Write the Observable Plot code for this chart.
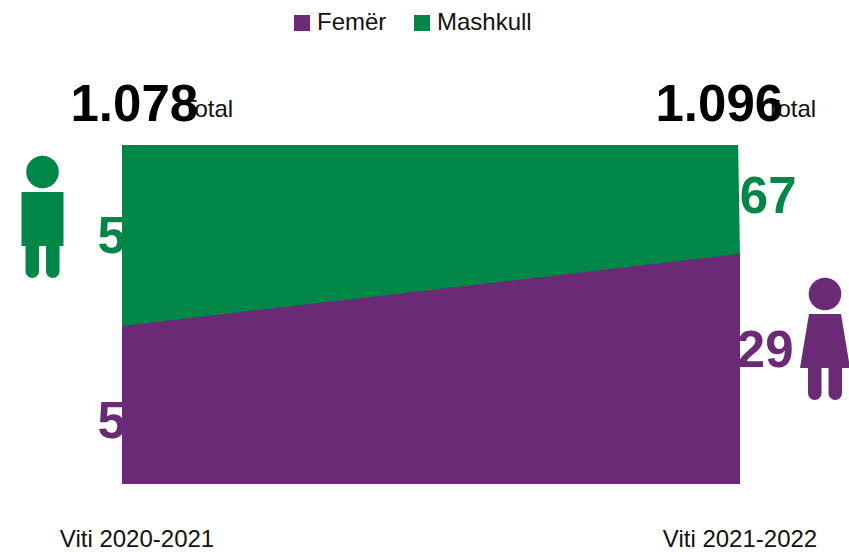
<!DOCTYPE html>
<html>
<head>
<meta charset="utf-8">
<script src="https://cdn.jsdelivr.net/npm/d3@7"></script>
<script src="https://cdn.jsdelivr.net/npm/@observablehq/plot@0.6"></script>
<style>
html,body{margin:0;padding:0;background:#fff;width:849px;height:552px;overflow:hidden}
body{font-family:"Liberation Sans",Arial,sans-serif}
#legend{position:relative;height:44px;font-size:24px;color:#111}
#legend .k{position:absolute;top:15px;width:16px;height:16px}
#legend .t{position:absolute;top:8px;line-height:28px}
svg{display:block}
</style>
</head>
<body>
<div id="legend"></div>
<div id="chart"></div>
<script>
const years = [2020, 2021];
const yearLabels = ["Viti 2020-2021", "Viti 2021-2022"];
const totals = ["1.078", "1.096"];
const femaleCounts = ["502", "729"];
const maleCounts = ["576", "367"];
const femaleShare = [0.466, 0.679];
const fullShare = [1, 1];
const zeroShare = [0, 0];
const maleTopX = [2020, 2020.997];
const seriesNames = ["Femër", "Mashkull"];
const purple = "#6a2a75";
const green = "#008747";

const legend = document.getElementById("legend");
[[seriesNames[0], purple, 294, 317], [seriesNames[1], green, 414, 437]].forEach(([n, c, kx, tx]) => {
  legend.insertAdjacentHTML("beforeend",
    `<span class="k" style="left:${kx}px;background:${c}"></span><span class="t" style="left:${tx}px">${n}</span>`);
});

const rows = years.map((x, i) => ({
  x, topX: maleTopX[i], share: femaleShare[i], full: fullShare[i], zero: zeroShare[i],
  total: totals[i], female: femaleCounts[i], male: maleCounts[i], label: yearLabels[i]
}));
const first = [rows[0]], last = [rows[1]];

function icon(kind, ox, oy, color) {
  return () => {
    const g = d3.create("svg:g").attr("fill", color).attr("transform", `translate(${ox},${oy})`);
    g.append("circle").attr("cx", 0).attr("cy", 0).attr("r", 16.3);
    if (kind === "man") {
      g.append("rect").attr("x", -21).attr("y", 20).attr("width", 42).attr("height", 54);
    } else {
      g.append("path").attr("d", "M-16,20H16L25,74H-25Z");
    }
    [[-17, -3.5], [3.5, 17]].forEach(([a, b]) => {
      const r = (b - a) / 2;
      g.append("path").attr("d", `M${a},72V${106 - r}A${r},${r} 0 0 0 ${b},${106 - r}V72Z`);
    });
    return g.node();
  };
}

const big = {fontSize: 51, fontWeight: 700, fontFamily: "Liberation Sans"};
const small = {fontSize: 24, fontFamily: "Liberation Sans", fill: "#111"};

const plot = Plot.plot({
  width: 849,
  height: 508,
  marginLeft: 122,
  marginRight: 109,
  marginTop: 101,
  marginBottom: 68,
  x: {type: "linear", domain: [2020, 2021], axis: null},
  y: {domain: [0, 1], axis: null},
  style: {fontFamily: "Liberation Sans", background: "#fff", overflow: "visible"},
  marks: [
    // counts sit behind the area, which hides part of their digits
    Plot.text(first, {x: "x", y: d => (d.share + d.full) / 2, text: "male", fill: green, textAnchor: "start", dx: -25, dy: 1, ...big}),
    Plot.text(first, {x: "x", y: d => d.share / 2, text: "female", fill: purple, textAnchor: "start", dx: -25, dy: 16, ...big}),
    Plot.text(last, {x: "x", y: d => (d.share + d.full) / 2, text: "male", fill: green, textAnchor: "end", dx: 56, dy: -3, ...big}),
    Plot.text(last, {x: "x", y: d => d.share / 2, text: "female", fill: purple, textAnchor: "end", dx: 53, dy: -19, ...big}),
    // the green band runs slightly under the purple one so no seam shows
    Plot.area(rows, {x1: "x", y1: d => d.share - 0.004, x2: "topX", y2: "full", fill: green}),
    Plot.area(rows, {x1: "x", x2: "x", y1: "zero", y2: "share", fill: purple}),
    // totals
    Plot.text(first, {x: "x", y: "full", text: () => "Total", textAnchor: "start", dx: 60, dy: -36, ...small}),
    Plot.text(last, {x: "x", y: "full", text: () => "Total", textAnchor: "start", dx: 25, dy: -36, ...small}),
    Plot.text(first, {x: "x", y: "full", text: "total", fill: "#000", textAnchor: "start", dx: -52, dy: -40.5, ...big}),
    Plot.text(last, {x: "x", y: "full", text: "total", fill: "#000", textAnchor: "start", dx: -85, dy: -40.5, ...big}),
    // period labels
    Plot.text(first, {x: "x", y: "zero", text: "label", dx: 14.5, dy: 55, ...small}),
    Plot.text(last, {x: "x", y: "zero", text: "label", dx: -0.5, dy: 55, ...small}),
    // pictograms
    icon("man", 42.5, 128, green),
    icon("woman", 825, 250, purple)
  ]
});
document.getElementById("chart").append(plot);
</script>
</body>
</html>
